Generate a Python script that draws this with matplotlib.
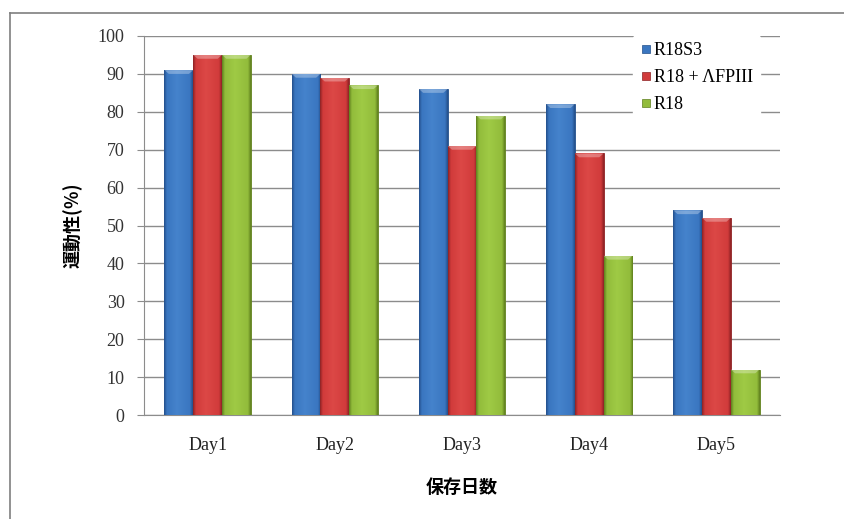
import numpy as np
import matplotlib
matplotlib.use('Agg')
import matplotlib.pyplot as plt
from matplotlib.colors import LinearSegmentedColormap
from matplotlib.lines import Line2D

days = ['Day1', 'Day2', 'Day3', 'Day4', 'Day5']
series = ['R18S3', 'R18 + ΛFPIII', 'R18']
r18s3 = [91, 90, 86, 82, 54]
r18_afp = [95, 89, 71, 69, 52]
r18 = [95, 87, 79, 42, 12]
yticks = [0, 10, 20, 30, 40, 50, 60, 70, 80, 90, 100]

# edge / body / centre shades for each bar colour
shades = [
    ('#234f8a', '#3a76c0', '#4583cc'),
    ('#8c2224', '#d13b3b', '#dc4846'),
    ('#5f7f1e', '#92bc3b', '#9fca45'),
]
base = ['#3a76c0', '#d13b3b', '#92bc3b']

serif = ['Liberation Serif', 'Noto Sans CJK JP']
cjk = ['Noto Sans CJK JP', 'DejaVu Sans']

fig = plt.figure(figsize=(8.44, 5.19), dpi=100)
ax = fig.add_axes([144 / 844, 1 - 415 / 519, (780 - 144) / 844, (415 - 36) / 519])

x = np.arange(len(days))
w = 0.226
grad = np.linspace(0, 1, 128).reshape(1, -1)
for i, vals in enumerate([r18s3, r18_afp, r18]):
    bars = ax.bar(x + (i - 1) * w, vals, w, color=base[i], edgecolor=shades[i][0],
                  linewidth=0.6, zorder=3)
    edge, body, mid = shades[i]
    cmap = LinearSegmentedColormap.from_list(
        's%d' % i, [(0, edge), (0.1, body), (0.45, mid), (0.9, body), (1, edge)])
    for b in bars:
        x0, y0 = b.get_x(), b.get_y()
        bw, bh = b.get_width(), b.get_height()
        im = ax.imshow(grad, cmap=cmap, aspect='auto', extent=(x0, x0 + bw, y0, y0 + bh),
                       zorder=3.5, interpolation='bilinear')
        im.set_clip_path(b)
        # bevelled top edge
        ax.fill([x0, x0 + bw, x0 + bw * 0.85, x0 + bw * 0.15],
                [y0 + bh, y0 + bh, y0 + bh - 1.0, y0 + bh - 1.0],
                color='white', alpha=0.3, lw=0, zorder=4)

ax.set_xlim(-0.5, 4.5)
ax.set_ylim(0, 100)
ax.set_yticks(yticks)
ax.set_xticks(x)
ax.set_xticklabels(days)
ax.yaxis.grid(True, color='#8c8c8c', linewidth=1.0, zorder=0)
ax.set_axisbelow(True)
for s in ['top', 'right']:
    ax.spines[s].set_visible(False)
ax.spines['left'].set_color('#8c8c8c')
ax.spines['bottom'].set_color('#8c8c8c')
ax.tick_params(axis='y', length=5, color='#8c8c8c', pad=9, labelsize=13, labelcolor='#333333')
ax.tick_params(axis='x', length=0, pad=16, labelsize=13, labelcolor='#222222')
for t in ax.get_xticklabels() + ax.get_yticklabels():
    t.set_family(serif)

ax.set_ylabel('運動性(％)', family=cjk, fontweight='bold', fontsize=13, labelpad=11)
ax.set_xlabel('保存日数', family=cjk, fontweight='bold', fontsize=13, labelpad=17)

handles = [Line2D([], [], marker='s', linestyle='', markersize=6, markerfacecolor=base[i],
                  markeredgecolor=shades[i][0], markeredgewidth=0.5) for i in range(3)]
leg = ax.legend(handles, series, loc='upper left', bbox_to_anchor=(480 / 636, 1.026),
                frameon=True, facecolor='white', edgecolor='white', framealpha=1,
                handlelength=0.6, handletextpad=0.15, labelspacing=0.55, borderpad=0.4,
                prop={'family': serif, 'size': 13})
leg.set_zorder(6)

# chart area border
fig.add_artist(Line2D([10 / 844, 10 / 844], [0, 1 - 13 / 519], color='#7f7f7f', lw=1.2))
fig.add_artist(Line2D([10 / 844, 1], [1 - 13 / 519, 1 - 13 / 519], color='#7f7f7f', lw=1.2))

fig.savefig('out.png', dpi=100)
